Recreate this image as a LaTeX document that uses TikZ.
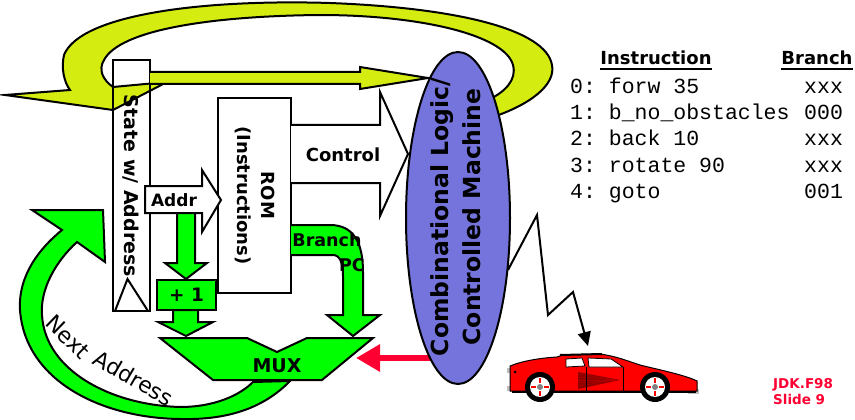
\documentclass[tikz,border=0pt]{standalone}
\usepackage{fontspec}
\setmainfont{DejaVu Sans}
\setmonofont{Liberation Mono}
\usetikzlibrary{shapes.geometric,arrows.meta,calc}

\definecolor{loopyel}{RGB}{212,236,16}
\definecolor{busgreen}{RGB}{0,255,0}
\definecolor{logicblue}{RGB}{116,116,220}
\definecolor{hotred}{RGB}{255,0,51}
\definecolor{strake}{RGB}{140,0,0}
\definecolor{trim}{RGB}{190,190,190}

\tikzset{
  outline/.style={draw=black, line width=2pt, line join=miter},
  lbl/.style={inner sep=0pt, font=\bfseries\fontsize{18}{24}\selectfont},
  arclbl/.style={inner sep=0pt, font=\fontsize{22}{24}\selectfont},
  code/.style={inner sep=0pt, anchor=base west, font=\ttfamily\fontsize{21.5}{24}\selectfont},
  hdr/.style={inner sep=0pt, anchor=base, font=\bfseries\fontsize{18}{21}\selectfont},
  foot/.style={inner sep=0pt, anchor=base west, text=hotred, font=\bfseries\fontsize{13.5}{15}\selectfont},
  frame/.style={inner sep=0pt, outer sep=0pt},
}

\begin{document}
\begin{tikzpicture}[x=1pt,y=-1pt]
\useasboundingbox (0,0) rectangle (855,420);

% ---------- Next Address feedback arrow (under the MUX) ----------
\filldraw[outline, fill=busgreen]
  (290,381) .. controls (260,412) and (220,420) .. (180,419)
  .. controls (100,418) and (25,380) .. (20,310)
  .. controls (18,275) and (40,248) .. (62,230)
  -- (32,210) -- (103,210) -- (105,262) -- (77,242)
  .. controls (55,262) and (40,290) .. (42,315)
  .. controls (45,370) and (110,405) .. (180,407)
  .. controls (215,407) and (240,395) .. (253,382) -- cycle;
\node[arclbl, rotate=-44] (nxt) at (68,337) {Next};
\node[arclbl, rotate=-30] (nadr) at (134,378) {Address};

% ---------- state register ----------
\node[frame, minimum width=37pt, minimum height=251pt] (state) at (131.5,185.5) {};
\fill[white] (state.north west) rectangle (state.south east);

% ---------- big loop arrow from the logic back around ----------
\filldraw[outline, fill=loopyel]
  (490,118) .. controls (530,105) and (556,85) .. (552,65)
  .. controls (546,30) and (460,8) .. (330,3)
  .. controls (200,-1) and (80,15) .. (64,55)
  .. controls (61,68) and (64,82) .. (70,90)
  -- (5,95) -- (113,110) -- (167,82) -- (113,87)
  .. controls (103,80) and (98,70) .. (104,60)
  .. controls (120,30) and (210,16) .. (320,15)
  .. controls (420,15) and (505,35) .. (513,65)
  .. controls (517,80) and (505,92) .. (488,100) -- cycle;

\draw[outline] (state.north west) rectangle (state.south east);
\draw[outline] ($(state.south west)+(2,0)$) -- ($(state.south)+(-4,-32)$) -- ($(state.south east)+(-2,0)$);
\node[lbl, rotate=-90, font=\bfseries\fontsize{19}{21}\selectfont] (statetxt) at (131,186) {State w/ Address};

% state output to the logic
\filldraw[outline, fill=loopyel]
  (state.east |- 0,72) -- (360,72) -- (360,67) -- (428,78) -- (360,89) -- (360,84) -- (state.east |- 0,84);

% ---------- ROM ----------
\node[frame, draw=black, line width=2pt, fill=white, minimum width=73pt, minimum height=195pt] (rom) at (254.5,195.5) {};
\node[lbl, rotate=-90, align=center] (romtxt) at (rom.center) {ROM\\(Instructions)};

% control field
\filldraw[outline, fill=white]
  (rom.east |- 0,125) -- (380,125) -- (380,92) -- (408,154) -- (380,216) -- (380,183) -- (rom.east |- 0,183);
\node[lbl] (ctl) at (343,155) {Control};

% address into the ROM
\filldraw[outline, fill=white]
  (145,186) -- (202,186) -- (202,170) -- (221,200) -- (202,232) -- (202,213) -- (145,213) -- cycle;
\node[lbl, font=\bfseries\fontsize{17}{20}\selectfont] (addr) at (174,200) {Addr};

% address into the incrementer
\filldraw[outline, fill=busgreen]
  (177,213) -- (195,213) -- (195,263) -- (207,263) -- (186,279) -- (165,263) -- (177,263) -- cycle;
\node[frame, draw=black, line width=2pt, fill=busgreen, minimum width=59pt, minimum height=30pt] (inc) at (186.5,295) {};
\node[lbl, font=\bfseries\fontsize{18.5}{20}\selectfont] (inctxt) at (inc.center) {+ 1};

% incrementer into the MUX
\filldraw[outline, fill=busgreen]
  (173,310) -- (198,310) -- (198,322) -- (213,322) -- (186,336) -- (158,322) -- (173,322) -- cycle;

% branch target field
\filldraw[outline, fill=busgreen]
  (rom.east |- 0,225) -- (330,225) .. controls (355,225) and (363,245) .. (363,272)
  -- (363,315) -- (380,315) -- (353,336) -- (327,315) -- (343,315) -- (343,276)
  .. controls (343,263) and (340,255) .. (333,255) -- (rom.east |- 0,255);
\node[lbl, font=\bfseries\fontsize{17.5}{20}\selectfont] (br) at (327,240) {Branch};
\node[lbl, font=\bfseries\fontsize{17.5}{20}\selectfont] (pc) at (352,265) {PC};

% ---------- MUX ----------
\filldraw[outline, fill=busgreen]
  (160,338) -- (247,338) -- (277,352) -- (307,338) -- (373,338) -- (322,380) -- (213,380) -- cycle;
\node[lbl, font=\bfseries\fontsize{19}{21}\selectfont] (mux) at (277,366) {MUX};

% select line
\coordinate (selstart) at (434,358);
\coordinate (seltip) at (356,358);
\draw[hotred, line width=6pt, -{Triangle[length=24pt,width=26pt]}] (selstart) -- (seltip);

% ---------- combinational logic ----------
\node[ellipse, draw=black, line width=2pt, fill=logicblue, minimum width=104pt, minimum height=332pt, inner sep=0pt] (clm) at (458,218) {};
\node[inner sep=0pt, rotate=90, align=center, font=\bfseries\fontsize{23.5}{32}\selectfont] (clmtxt) at (456,217) {Combinational Logic/\\Controlled Machine};

% drive to the car
\coordinate (zstart) at (508,270);
\coordinate (cartop) at (588,346);
\draw[line width=2pt, line join=miter, -{Triangle[length=14pt,width=13pt]}]
  (zstart) -- (537,215) -- (548,315) -- (573,292) -- (cartop);

% ---------- car ----------
\fill[trim] (507,368) rectangle (514,373);
\fill[trim] (507,386) rectangle (520,391);
\fill[trim] (688,389) rectangle (699,394);
\filldraw[fill=red, draw=black, line width=1pt]
  (510,366) .. controls (522,361) and (540,358) .. (557,357) -- (563,355)
  -- (600,354) .. controls (615,356) and (625,360) .. (640,365)
  .. controls (660,370) and (685,375) .. (697,381) -- (697,391) -- (510,391) -- cycle;
\draw[black, line width=2pt] (560,355) -- (602,354);
\draw[black, line width=2.5pt] (512,392) -- (696,392);
\filldraw[fill=white, draw=black, line width=0.8pt] (566,359) -- (582,358) -- (585,366) -- (566,367) -- cycle;
\filldraw[fill=white, draw=black, line width=0.8pt] (588,358) -- (611,359) -- (623,367) -- (589,367) -- cycle;
\fill[strake] (578,372) -- (620,380) -- (578,389) -- cycle;
\foreach \yy in {374,377,380,383,386}
  \draw[red!70!black, line width=0.5pt] (578,\yy) -- (616,380);
\draw[black, line width=0.8pt] (586,367) -- (586,391);
\draw[black, line width=0.8pt] (623,367) -- (623,391);
\fill[black] (515,372) circle (1.5);
\foreach \cx in {540,655} {
  \fill[black] (\cx,387) circle (15);
  \fill[white] (\cx,387) circle (10);
  \fill[red] (\cx-9,386) rectangle (\cx-4,388);
  \fill[red] (\cx+4,386) rectangle (\cx+9,388);
  \fill[red] (\cx-1,378) rectangle (\cx+1,383);
  \fill[red] (\cx-1,391) rectangle (\cx+1,396);
  \fill[gray] (\cx,387) circle (3);
}

% ---------- program listing ----------
\node[hdr] (hins) at (656,65) {Instruction};
\node[hdr] (hbr) at (817,65) {Branch};
\draw[line width=2pt] ([yshift=-4pt]hins.base west) -- ([yshift=-4pt]hins.base east);
\draw[line width=2pt] ([yshift=-4pt]hbr.base west) -- ([yshift=-4pt]hbr.base east);

\node[code] (r0) at (570,94) {0: forw 35};
\node[code] (r1) at (570,120) {1: b\_no\_obstacles};
\node[code] (r2) at (570,146) {2: back 10};
\node[code] (r3) at (570,172) {3: rotate 90};
\node[code] (r4) at (570,198) {4: goto};
\node[code] (b0) at (804,94) {xxx};
\node[code] (b1) at (804,120) {000};
\node[code] (b2) at (804,146) {xxx};
\node[code] (b3) at (804,172) {xxx};
\node[code] (b4) at (804,198) {001};

% ---------- slide tag ----------
\node[foot] (jdk) at (773,388) {JDK.F98};
\node[foot] (slide) at (773,404) {Slide 9};
\end{tikzpicture}
\end{document}
